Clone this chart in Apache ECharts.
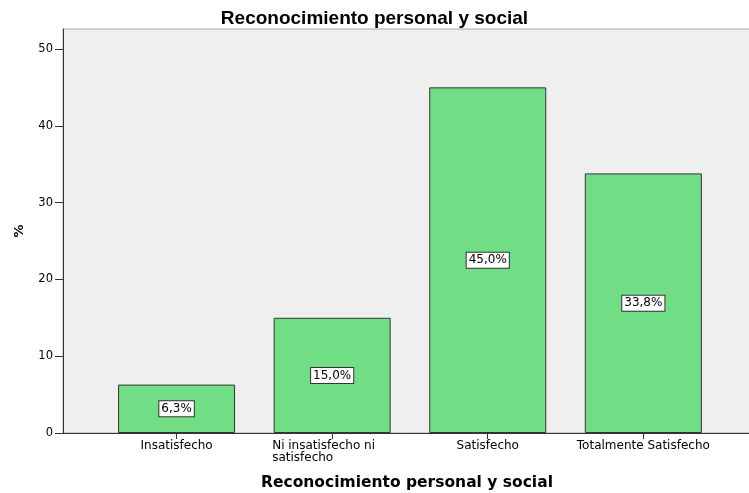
<!DOCTYPE html>
<html>
<head>
<meta charset="utf-8">
<script src="https://cdn.jsdelivr.net/npm/echarts@6/dist/echarts.min.js"></script>
<style>
  html, body { margin: 0; padding: 0; background: #ffffff; }
  #chart { width: 749px; height: 493px; }
</style>
</head>
<body>
<div id="chart"></div>
<script>
// Survey answers: share of respondents (%) per satisfaction level
const categories = ['Insatisfecho', 'Ni insatisfecho ni\nsatisfecho', 'Satisfecho', 'Totalmente Satisfecho'];
const percentages = [6.3, 15.0, 45.0, 33.8];
const yTicks = [0, 10, 20, 30, 40, 50];

const chartTitle = 'Reconocimiento personal y social';
const xAxisTitle = 'Reconocimiento personal y social';
const yAxisTitle = '%';

const positions = categories.map((_, i) => i);
const barData = percentages.map((v, i) => [positions[i], v]);

const chart = echarts.init(document.getElementById('chart'), null, { renderer: 'canvas' });

const fontFamily = 'DejaVu Sans';

// Multi-line category names are left-aligned inside a centred block
function categoryLabel(v) {
  const name = categories[Math.round(v)] || '';
  const lines = name.split('\n');
  if (lines.length === 1) return '{c|' + name + '}';
  return lines.map(l => '{l|' + l + '}').join('\n');
}

chart.setOption({
  animation: false,
  backgroundColor: '#ffffff',
  title: {
    text: chartTitle,
    left: 'center',
    top: 4,
    textStyle: { fontFamily: 'Liberation Sans', fontWeight: 'bold', fontSize: 19, color: '#000' }
  },
  grid: {
    left: 63,
    right: -2,
    top: 29,
    bottom: 60,
    outerBoundsMode: 'none',
    containLabel: false,
    show: true,
    backgroundColor: '#efefef',
    borderColor: '#a8a8a8',
    borderWidth: 1
  },
  xAxis: {
    type: 'value',
    min: -0.73,
    max: 3.692,
    name: xAxisTitle,
    nameLocation: 'middle',
    nameGap: 42,
    nameTextStyle: { fontFamily: fontFamily, fontWeight: 'bold', fontSize: 15.5, color: '#000' },
    splitLine: { show: false },
    axisLine: { show: true, onZero: false, lineStyle: { color: '#333', width: 1 } },
    axisTick: { show: true, length: 6, customValues: positions, lineStyle: { color: '#333' } },
    axisLabel: {
      customValues: positions,
      margin: 7,
      color: '#000',
      formatter: categoryLabel,
      rich: {
        c: { fontFamily: fontFamily, fontSize: 12, color: '#000', lineHeight: 12 },
        l: { fontFamily: fontFamily, fontSize: 12, color: '#000', lineHeight: 12, width: 120, align: 'left' }
      }
    }
  },
  yAxis: {
    type: 'value',
    min: 0,
    max: 52.6,
    interval: 10,
    name: yAxisTitle,
    nameLocation: 'middle',
    nameGap: 37,
    nameTextStyle: { fontFamily: fontFamily, fontWeight: 'bold', fontSize: 13, color: '#000' },
    splitLine: { show: false },
    axisLine: { show: true, onZero: false, lineStyle: { color: '#333', width: 1 } },
    axisTick: { show: true, length: 8, customValues: yTicks, lineStyle: { color: '#333' } },
    axisLabel: {
      customValues: yTicks,
      margin: 10,
      fontFamily: fontFamily,
      fontSize: 11.5,
      color: '#000'
    }
  },
  series: [{
    type: 'bar',
    data: barData,
    barWidth: 117,
    itemStyle: { color: '#71dd85', borderColor: '#333', borderWidth: 1 },
    label: {
      show: true,
      position: 'inside',
      formatter: p => p.value[1].toFixed(1).replace('.', ',') + '%',
      fontFamily: fontFamily,
      fontSize: 12,
      color: '#000',
      backgroundColor: '#ffffff',
      borderColor: '#333',
      borderWidth: 1,
      padding: [2, 2, 1, 2]
    }
  }]
});
</script>
</body>
</html>
